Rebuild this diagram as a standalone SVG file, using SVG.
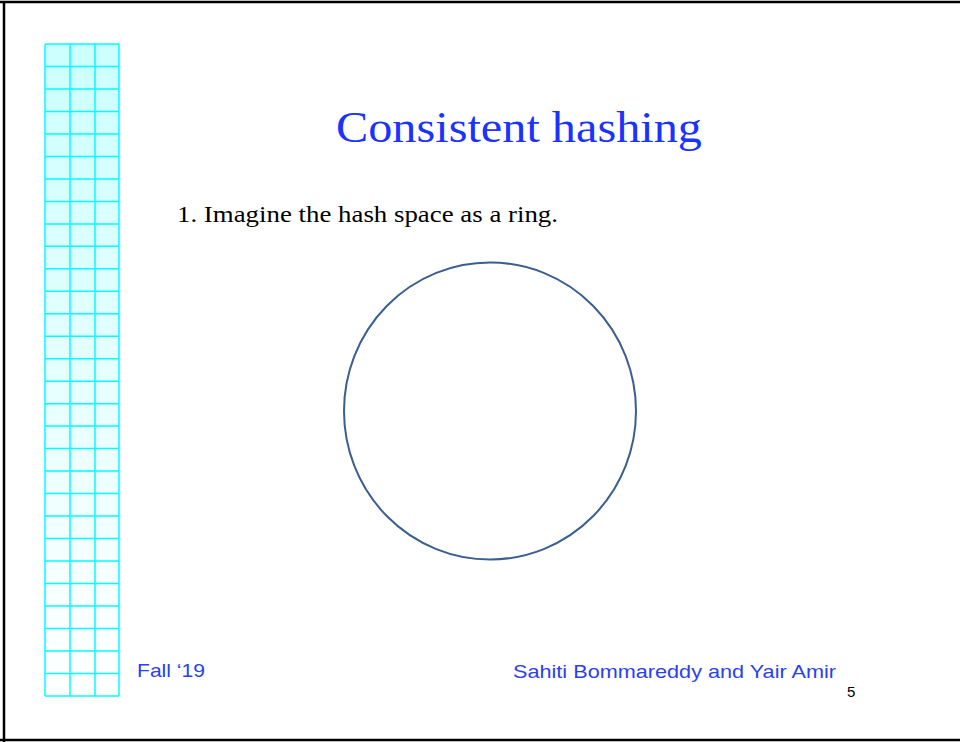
<svg xmlns="http://www.w3.org/2000/svg" width="960" height="742" viewBox="0 0 960 742">
<defs>
<linearGradient id="gridFill" x1="0" y1="0" x2="0" y2="1">
<stop offset="0" stop-color="#ccffff"/>
<stop offset="1" stop-color="#ffffff"/>
</linearGradient>
</defs>
<style>
.grid{stroke:#00ffff;stroke-width:1.5;fill:none}
.title{font-family:"Liberation Serif","DejaVu Serif",serif;font-size:44px;fill:#1a33ff}
.body{font-family:"Liberation Serif","DejaVu Serif",serif;font-size:23px;fill:#000}
.foot{font-family:"Liberation Sans",Arial,sans-serif;font-size:19px;fill:#2a3fef}
.num{font-family:"Liberation Sans",Arial,sans-serif;font-size:15px;fill:#000}
</style>
<rect x="0" y="0" width="960" height="742" fill="#ffffff"/>
<g id="frame">
<line x1="4" y1="2" x2="4" y2="742" stroke="#000" stroke-width="2.5"/>
<line x1="0" y1="2" x2="960" y2="2" stroke="#000" stroke-width="2.5"/>
<line x1="0" y1="740" x2="960" y2="740" stroke="#000" stroke-width="2.5"/>
</g>
<g id="grid">
<rect x="45" y="44" width="74" height="652" fill="url(#gridFill)"/>
<path class="grid" d="M45,44V696M70,44V696M95,44V696M119,44V696
M45,44H119M45,66.5H119M45,89H119M45,111.5H119M45,134H119M45,156.4H119M45,178.9H119M45,201.4H119M45,223.9H119M45,246.3H119M45,268.8H119M45,291.3H119M45,313.8H119M45,336.2H119M45,358.7H119M45,381.2H119M45,403.7H119M45,426.1H119M45,448.6H119M45,471.1H119M45,493.6H119M45,516H119M45,538.5H119M45,561H119M45,583.5H119M45,605.9H119M45,628.4H119M45,650.9H119M45,673.4H119M45,696H119"/>
</g>
<g id="title">
<text class="title" x="336" y="142" textLength="366" lengthAdjust="spacingAndGlyphs">Consistent hashing</text>
</g>
<g id="bullet">
<text class="body" x="177" y="222" textLength="381" lengthAdjust="spacingAndGlyphs">1. Imagine the hash space as a ring.</text>
</g>
<g id="ring">
<ellipse cx="490" cy="411" rx="146" ry="148.5" fill="none" stroke="#3a5f8f" stroke-width="2"/>
</g>
<g id="footer">
<text class="foot" x="137" y="677" textLength="68" lengthAdjust="spacingAndGlyphs">Fall ‘19</text>
<text class="foot" x="513" y="678" textLength="323" lengthAdjust="spacingAndGlyphs">Sahiti Bommareddy and Yair Amir</text>
<text class="num" x="847" y="697">5</text>
</g>
</svg>
